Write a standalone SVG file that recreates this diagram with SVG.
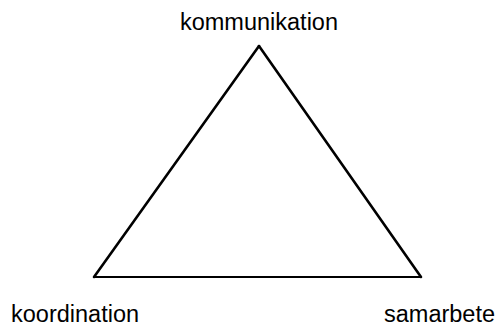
<svg xmlns="http://www.w3.org/2000/svg" width="497" height="327" viewBox="0 0 497 327">
<style>
.lbl{font-family:"Liberation Sans",Arial,sans-serif;font-size:23.5px;fill:#000}
.edge{stroke:#000;fill:none;stroke-linecap:round}
</style>
<rect width="497" height="327" fill="#fff"/>
<g id="connectors">
<line class="edge" x1="259" y1="46" x2="94" y2="277" stroke-width="2.6"/>
<line class="edge" x1="259" y1="46" x2="421" y2="277" stroke-width="2.6"/>
<line class="edge" x1="94" y1="277" x2="421" y2="277" stroke-width="1.8"/>
</g>
<g id="kommunikation"><text class="lbl" x="259" y="29.5" text-anchor="middle">kommunikation</text></g>
<g id="koordination"><text class="lbl" x="11" y="321.5">koordination</text></g>
<g id="samarbete"><text class="lbl" x="384" y="321.5">samarbete</text></g>
</svg>
